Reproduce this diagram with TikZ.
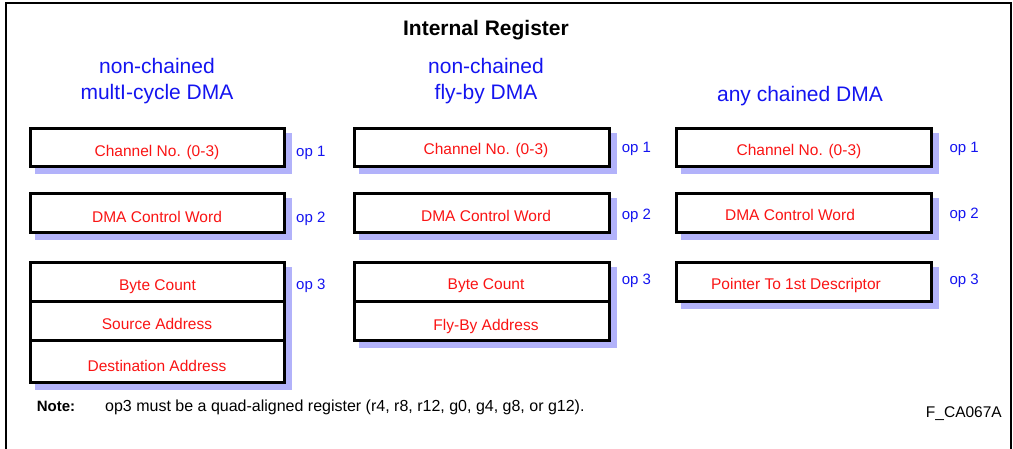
\documentclass[tikz,border=0pt]{standalone}
\usepackage{fontspec}
\setmainfont{Liberation Sans}
\usetikzlibrary{backgrounds}
\definecolor{shadowc}{RGB}{178,178,250}
\definecolor{bluet}{RGB}{20,20,240}
\definecolor{redt}{RGB}{250,20,20}
\tikzset{
  regbox/.style={draw=black, line width=3pt, fill=white, inner sep=0pt, outer sep=0pt},
  rtext/.style={text=redt, font=\fontsize{15.5}{18}\selectfont, anchor=base, inner sep=0pt},
  optext/.style={text=bluet, font=\fontsize{15}{18}\selectfont, anchor=base west, inner sep=0pt},
  headtext/.style={text=bluet, font=\fontsize{21}{26}\selectfont, anchor=base, inner sep=0pt},
  shadowfill/.style={fill=shadowc},
}
\newcommand{\boxshadow}[2]{%
  \fill[shadowfill] ([shift={(4.5,4.5)}]#1.north west) rectangle ([shift={(7.5,7.5)}]#2.south east);}
\begin{document}
\begin{tikzpicture}[x=1pt,y=-1pt]
\useasboundingbox (0,0) rectangle (1013,448);
\draw[line width=2pt] (6,470) -- (6,3) -- (1011,3) -- (1011,470);

% title
\node[font=\bfseries\fontsize{21}{26}\selectfont, anchor=base, inner sep=0pt] (title) at (486,35) {Internal Register};

% column headings
\node[headtext] (h1a) at (157,73) {non-chained};
\node[headtext] (h1b) at (157,99) {multI-cycle DMA};
\node[headtext] (h2a) at (486,73) {non-chained};
\node[headtext] (h2b) at (486,99) {fly-by DMA};
\node[headtext] (h3) at (800,101.5) {any chained DMA};

% column 1 boxes
\node[regbox, minimum width=254.5pt, minimum height=38.5pt] (c1r1) at (157.25,147.25) {};
\node[regbox, minimum width=254.5pt, minimum height=39pt] (c1r2) at (157.25,213) {};
\node[regbox, minimum width=254.5pt, minimum height=39.5pt] (c1r3) at (157.25,281.75) {};
\node[regbox, minimum width=254.5pt, minimum height=39.3pt] (c1r4) at (157.25,321.15) {};
\node[regbox, minimum width=254.5pt, minimum height=41.4pt] (c1r5) at (157.25,361.5) {};

% column 2 boxes
\node[regbox, minimum width=254.5pt, minimum height=38.5pt] (c2r1) at (482,147.25) {};
\node[regbox, minimum width=254.5pt, minimum height=39pt] (c2r2) at (482,213) {};
\node[regbox, minimum width=254.5pt, minimum height=39.5pt] (c2r3) at (482,281.75) {};
\node[regbox, minimum width=254.5pt, minimum height=39.3pt] (c2r4) at (482,321.15) {};

% column 3 boxes
\node[regbox, minimum width=254.8pt, minimum height=38.5pt] (c3r1) at (803.6,147.25) {};
\node[regbox, minimum width=254.8pt, minimum height=39pt] (c3r2) at (803.6,213) {};
\node[regbox, minimum width=254.8pt, minimum height=39pt] (c3r3) at (803.6,281.75) {};

% shadows
\begin{scope}[on background layer]
\boxshadow{c1r1}{c1r1}
\boxshadow{c1r2}{c1r2}
\boxshadow{c1r3}{c1r5}
\boxshadow{c2r1}{c2r1}
\boxshadow{c2r2}{c2r2}
\boxshadow{c2r3}{c2r4}
\boxshadow{c3r1}{c3r1}
\boxshadow{c3r2}{c3r2}
\boxshadow{c3r3}{c3r3}
\end{scope}

% red texts
\node[rtext] (t11) at (157,156.7) {Channel No. (0-3)};
\node[rtext] (t12) at (157,222.5) {DMA Control Word};
\node[rtext] (t13) at (157.5,290.5) {Byte Count};
\node[rtext] (t14) at (157,329.3) {Source Address};
\node[rtext] (t15) at (157,371.5) {Destination Address};
\node[rtext] (t21) at (486,154) {Channel No. (0-3)};
\node[rtext] (t22) at (486,221.5) {DMA Control Word};
\node[rtext] (t23) at (486,289) {Byte Count};
\node[rtext] (t24) at (486,330) {Fly-By Address};
\node[rtext] (t31) at (799,155) {Channel No. (0-3)};
\node[rtext] (t32) at (790,220.7) {DMA Control Word};
\node[rtext] (t33) at (796,289) {Pointer To 1st Descriptor};

% op labels
\node[optext] (o11) at (296,156.7) {op 1};
\node[optext] (o12) at (296,222.7) {op 2};
\node[optext] (o13) at (296,289.3) {op 3};
\node[optext] (o21) at (621.7,152.3) {op 1};
\node[optext] (o22) at (621.7,219) {op 2};
\node[optext] (o23) at (621.7,284.3) {op 3};
\node[optext] (o31) at (949.3,152.3) {op 1};
\node[optext] (o32) at (949.3,218.3) {op 2};
\node[optext] (o33) at (949.3,284.3) {op 3};

% note
\node[font=\bfseries\fontsize{15}{18}\selectfont, anchor=base west, inner sep=0pt] (notelbl) at (36.7,411.7) {Note:};
\node[font=\fontsize{16}{19}\selectfont, anchor=base west, inner sep=0pt] (notetxt) at (105,411.7) {op3 must be a quad-aligned register (r4, r8, r12, g0, g4, g8, or g12).};
\node[font=\fontsize{15.5}{18}\selectfont, anchor=base east, inner sep=0pt] (figid) at (1002,417) {F\_CA067A};
\end{tikzpicture}
\end{document}
